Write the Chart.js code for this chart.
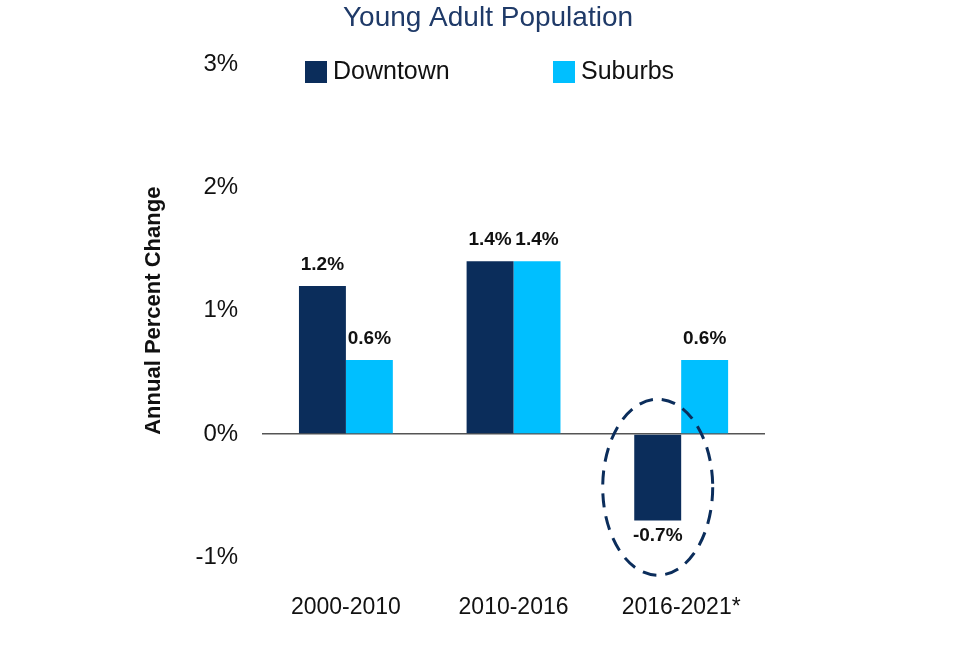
<!DOCTYPE html>
<html>
<head>
<meta charset="utf-8">
<script src="https://cdn.jsdelivr.net/npm/chart.js@4"></script>
<style>
  html, body { margin: 0; padding: 0; background: #fff; }
  #wrap { width: 960px; height: 653px; }
</style>
</head>
<body>
<div id="wrap"><canvas id="c" width="960" height="653"></canvas></div>
<script>
const categories = ['2000-2010', '2010-2016', '2016-2021*'];
const downtown = [1.2, 1.4, -0.7];
const suburbs = [0.6, 1.4, 0.6];
const yTicks = [-1, 0, 1, 2, 3];
const FONT = 'Arial, "Liberation Sans"';

// Tiêu đề và chú thích vẽ tay (chồng lên vùng trên của trục)
const header = {
    id: 'header',
    afterDraw(chart) {
        const ctx = chart.ctx;
        ctx.save();
        ctx.textBaseline = 'middle';
        ctx.textAlign = 'center';
        ctx.fillStyle = '#1f3a68';
        ctx.font = '28px ' + FONT;
        ctx.fillText('Young Adult Population', 488, 18);
        ctx.textAlign = 'left';
        ctx.font = '25px ' + FONT;
        const items = [[305, 0], [553, 1]];
        items.forEach(([x, i]) => {
            const ds = chart.data.datasets[i];
            ctx.fillStyle = ds.backgroundColor;
            ctx.fillRect(x, 61, 22, 22);
            ctx.fillStyle = '#111';
            ctx.fillText(ds.label, x + 28, 72);
        });
        ctx.restore();
    }
};

// Nhãn giá trị trên các cột
const valueLabels = {
    id: 'valueLabels',
    afterDatasetsDraw(chart) {
        const ctx = chart.ctx;
        ctx.save();
        ctx.font = 'bold 19px ' + FONT;
        ctx.fillStyle = '#111';
        ctx.textAlign = 'center';
        chart.data.datasets.forEach((ds, i) => {
            chart.getDatasetMeta(i).data.forEach((bar, j) => {
                const v = ds.data[j];
                if (v >= 0) {
                    ctx.textBaseline = 'bottom';
                    ctx.fillText(v.toFixed(1) + '%', bar.x, bar.y - 12);
                } else {
                    ctx.textBaseline = 'top';
                    ctx.fillText(v.toFixed(1) + '%', bar.x, bar.y + 6);
                }
            });
        });
        ctx.restore();
    }
};

// Vòng elip nét đứt quanh cột âm
const dashedEllipse = {
    id: 'dashedEllipse',
    afterDatasetsDraw(chart) {
        const bar = chart.getDatasetMeta(0).data[2];
        const y0 = chart.scales.y.getPixelForValue(0);
        const ctx = chart.ctx;
        ctx.save();
        ctx.strokeStyle = '#0b2d5b';
        ctx.lineWidth = 3;
        ctx.setLineDash([14, 9]);
        ctx.beginPath();
        ctx.ellipse(bar.x, (y0 + bar.y) / 2 + 10, 55, 88, 0, 0, Math.PI * 2);
        ctx.stroke();
        ctx.restore();
    }
};

new Chart(document.getElementById('c').getContext('2d'), {
    type: 'bar',
    data: {
        labels: categories,
        datasets: [
            { label: 'Downtown', data: downtown, backgroundColor: '#0b2d5b' },
            { label: 'Suburbs', data: suburbs, backgroundColor: '#00bfff' }
        ]
    },
    options: {
        responsive: false,
        animation: false,
        layout: { padding: { left: 137, right: 195, top: 64, bottom: 4 } },
        datasets: { bar: { barPercentage: 1, categoryPercentage: 0.56 } },
        plugins: {
            legend: { display: false },
            tooltip: { enabled: false }
        },
        scales: {
            x: {
                grid: { display: false },
                border: { display: false },
                ticks: { color: '#111', font: { size: 23, family: FONT }, padding: 28 }
            },
            y: {
                min: -1, max: 3,
                afterBuildTicks: axis => { axis.ticks = yTicks.map(v => ({ value: v })); },
                border: { display: false },
                grid: {
                    color: ctx => ctx.tick && ctx.tick.value === 0 ? '#555' : 'transparent',
                    lineWidth: 1.5,
                    drawTicks: false
                },
                ticks: {
                    color: '#111', padding: 24,
                    font: { size: 24, family: FONT },
                    callback: v => v + '%'
                },
                title: {
                    display: true, text: 'Annual Percent Change', color: '#111',
                    font: { size: 22, weight: 'bold', family: FONT }
                }
            }
        }
    },
    plugins: [valueLabels, dashedEllipse, header]
});
</script>
</body>
</html>
